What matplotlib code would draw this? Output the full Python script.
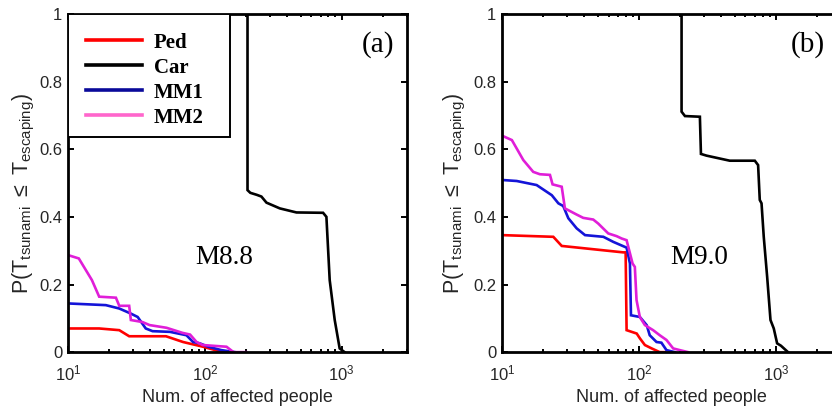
"""
Tsunami escape probability vs number of affected people, two magnitudes
"""
import matplotlib
matplotlib.use("Agg")
import matplotlib.pyplot as plt
from matplotlib.lines import Line2D
from matplotlib.patches import Rectangle
from matplotlib.ticker import FixedLocator, FixedFormatter, NullFormatter

plt.rcParams['font.family'] = ['Liberation Sans', 'DejaVu Sans']
plt.rcParams['mathtext.fontset'] = 'custom'
plt.rcParams['mathtext.rm'] = 'Liberation Sans'
plt.rcParams['mathtext.it'] = 'Liberation Sans:italic'

# panel (a): M8.8
ped_a_x = [10, 16.9, 23.7, 28, 52, 69.3, 97, 135]
ped_a_y = [0.07, 0.07, 0.065, 0.047, 0.047, 0.03, 0.016, 0.0]
car_a_x = [205, 205, 215, 240, 259, 282, 353, 467, 731, 773, 817, 889, 966, 1050]
car_a_y = [1.0, 0.479, 0.471, 0.465, 0.46, 0.442, 0.425, 0.413, 0.412, 0.40, 0.213, 0.095, 0.011, 0.0]
mm1_a_x = [10, 18.9, 23.7, 28.8, 32.3, 37, 41.5, 55.6, 73.4, 82, 91.8, 106, 132, 166]
mm1_a_y = [0.144, 0.139, 0.129, 0.114, 0.104, 0.07, 0.062, 0.06, 0.05, 0.03, 0.026, 0.016, 0.006, 0.0]
mm2_a_x = [10, 12.0, 14.96, 16.9, 22.4, 23.7, 28, 28.8, 35, 39.5, 52.5, 68.7, 78, 87, 96.6, 144, 162, 200]
mm2_a_y = [0.287, 0.277, 0.213, 0.164, 0.161, 0.137, 0.137, 0.095, 0.089, 0.08, 0.072, 0.057, 0.052,
           0.03, 0.021, 0.016, 0.0, 0.0]

# panel (b): M9.0
ped_b_x = [10, 23.7, 27.3, 76.8, 80, 81.3, 96.4, 102, 110.6, 124, 142, 155]
ped_b_y = [0.346, 0.341, 0.314, 0.295, 0.295, 0.065, 0.055, 0.04, 0.021, 0.011, 0.0, 0.0]
car_b_x = [205, 205, 217, 279, 284, 312, 461, 703, 743, 764, 787, 817, 865, 915, 967, 1023, 1091, 1229]
car_b_y = [1.0, 0.711, 0.698, 0.696, 0.586, 0.581, 0.566, 0.566, 0.553, 0.45, 0.44, 0.341, 0.223,
           0.095, 0.07, 0.026, 0.019, 0.0]
mm1_b_x = [10, 12.8, 17.9, 23.1, 25.8, 28, 30.5, 35.1, 40.4, 55, 65, 81.3, 86, 87.5, 101.6, 114, 120,
           134.5, 146, 159, 183]
mm1_b_y = [0.509, 0.506, 0.494, 0.464, 0.44, 0.432, 0.396, 0.366, 0.346, 0.341, 0.326, 0.309, 0.262,
           0.109, 0.104, 0.08, 0.05, 0.03, 0.028, 0.006, 0.0]
mm2_b_x = [10, 11.8, 14.3, 16.9, 18.9, 22.4, 23.4, 27.3, 28.8, 35, 39.2, 46.4, 50.5, 59.7, 68.7, 74.8,
           81.3, 89.9, 93.4, 96.1, 101.6, 110.6, 127, 142, 159, 178, 199, 229]
mm2_b_y = [0.64, 0.627, 0.568, 0.533, 0.526, 0.524, 0.496, 0.489, 0.425, 0.407, 0.397, 0.392, 0.38,
           0.351, 0.343, 0.336, 0.331, 0.262, 0.252, 0.154, 0.104, 0.08, 0.065, 0.05, 0.036, 0.011,
           0.006, 0.0]

labels = ['Ped', 'Car', 'MM1', 'MM2']
colors = ['#ff0000', '#000000', '#1414d8', '#e01ed8']
legend_colors = ['#ff0000', '#000000', '#0a0a9a', '#ff66cc']
yticks = [0, 0.2, 0.4, 0.6, 0.8, 1]
ytick_labels = ['0', '0.2', '0.4', '0.6', '0.8', '1']

panels = [
    ('(a)', 'M8.8', [(ped_a_x, ped_a_y), (car_a_x, car_a_y), (mm1_a_x, mm1_a_y), (mm2_a_x, mm2_a_y)]),
    ('(b)', 'M9.0', [(ped_b_x, ped_b_y), (car_b_x, car_b_y), (mm1_b_x, mm1_b_y), (mm2_b_x, mm2_b_y)]),
]
positions = [[0.0817, 0.139, 0.4075, 0.827], [0.6034, 0.139, 0.4075, 0.827]]
tag_x = [0.914, 0.903]
mag_x = [0.46, 0.582]
ylabel_x = [-0.09, -0.1]

fig = plt.figure(figsize=(8.32, 4.09), dpi=100)

for i, (tag, mag, series) in enumerate(panels):
    ax = fig.add_axes(positions[i])
    for (x, y), c in zip(series, colors):
        ax.plot(x, y, color=c, lw=1.9, solid_joinstyle='miter')
    ax.set_xscale('log')
    ax.set_xlim(10, 3000)
    ax.set_ylim(0, 1)
    ax.yaxis.set_major_locator(FixedLocator(yticks))
    ax.yaxis.set_major_formatter(FixedFormatter(ytick_labels))
    ax.xaxis.set_minor_formatter(NullFormatter())
    ax.tick_params(which='both', direction='in', top=True, right=True, width=1.4,
                   labelsize=12, labelcolor='#262626', pad=4)
    ax.tick_params(which='major', length=4)
    ax.tick_params(which='minor', length=2.5)
    ax.tick_params(axis='x', which='major', pad=8)
    for s in ax.spines.values():
        s.set_linewidth(2.0)
    ax.set_xlabel('Num. of affected people', fontsize=13, color='#262626', labelpad=4)
    ax.set_ylabel(r'P(T$_{\rm tsunami}$ $\leq$ T$_{\rm escaping}$)', fontsize=15.5,
                  color='#262626')
    ax.yaxis.set_label_coords(ylabel_x[i], 0.47)
    ax.text(tag_x[i], 0.908, tag, transform=ax.transAxes, ha='center', va='center',
            fontsize=21, family='Liberation Serif')
    ax.text(mag_x[i], 0.281, mag, transform=ax.transAxes, ha='center', va='center',
            fontsize=19.5, family='Liberation Serif')
    if i == 0:
        ax.add_patch(Rectangle((0, 0.636), 0.478, 0.364, transform=ax.transAxes,
                               facecolor='white', edgecolor='black', lw=1.4, zorder=4))
        handles = [Line2D([], [], color=c, lw=2.6) for c in legend_colors]
        ax.legend(handles, labels, loc='upper left', bbox_to_anchor=(0.053, 0.945),
                  borderaxespad=0, borderpad=0, frameon=False,
                  prop={'family': 'Liberation Serif', 'weight': 'bold', 'size': 15},
                  handlelength=2.7, handletextpad=0.55, labelspacing=0.24).set_zorder(5)

fig.savefig('out.png', dpi=100)
